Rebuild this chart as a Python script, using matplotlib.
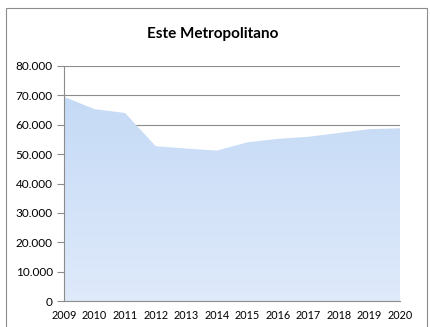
import matplotlib
matplotlib.use("Agg")
import matplotlib.pyplot as plt
import numpy as np
from matplotlib.patches import Rectangle
from matplotlib.ticker import FuncFormatter

years = [2009, 2010, 2011, 2012, 2013, 2014, 2015, 2016, 2017, 2018, 2019, 2020]
values = [69500, 65300, 64000, 52700, 51900, 51200, 54000, 55200, 55900, 57200, 58500, 58800]
y_ticks = [0, 10000, 20000, 30000, 40000, 50000, 60000, 70000, 80000]

plt.rcParams["font.family"] = ["Lato", "DejaVu Sans"]

fig = plt.figure(figsize=(4.31, 3.27), dpi=100)
ax = fig.add_axes([64 / 431, 26 / 327, 336 / 431, 235 / 327])

# outer chart frame
fig.patches.append(Rectangle((6 / 431, -0.01), 421 / 431, 1.01 - 8 / 327,
                             transform=fig.transFigure, fill=False,
                             edgecolor="#8c8c8c", linewidth=0.8))

x = np.arange(len(years))
poly = ax.fill_between(x, values, 0, facecolor="none", edgecolor="none", zorder=2)

# vertical gradient clipped to the area
grad = np.linspace(0, 1, 256).reshape(-1, 1)
cmap = matplotlib.colors.LinearSegmentedColormap.from_list(
    "g", ["#dfeafb", "#c5daf6"])
img = ax.imshow(grad, cmap=cmap, aspect="auto", origin="lower",
                extent=[0, len(years) - 1, 0, max(values)], zorder=2)
img.set_clip_path(poly.get_paths()[0], transform=ax.transData)

ax.set_xlim(0, len(years) - 1)
ax.set_ylim(0, 80000)
ax.set_yticks(y_ticks)
ax.yaxis.set_major_formatter(FuncFormatter(lambda v, p: f"{int(v):,}".replace(",", ".")))
ax.set_xticks(x)
ax.set_xticklabels([str(y) for y in years])
ax.grid(axis="y", color="#8c8c8c", linewidth=0.8, zorder=1)
ax.set_axisbelow(True)

for s in ["top", "right"]:
    ax.spines[s].set_visible(False)
for s in ["left", "bottom"]:
    ax.spines[s].set_color("#8c8c8c")
    ax.spines[s].set_linewidth(0.8)
    ax.spines[s].set_zorder(3)

ax.tick_params(axis="y", length=5, color="#8c8c8c", labelsize=8.5, pad=3)
ax.tick_params(axis="x", length=0, labelsize=7.8, pad=6.5)

fig.text(213 / 431, 1 - 34 / 327, "Este Metropolitano", ha="center", va="center",
         fontsize=11, fontweight="bold")

fig.savefig("out.png", dpi=100)
